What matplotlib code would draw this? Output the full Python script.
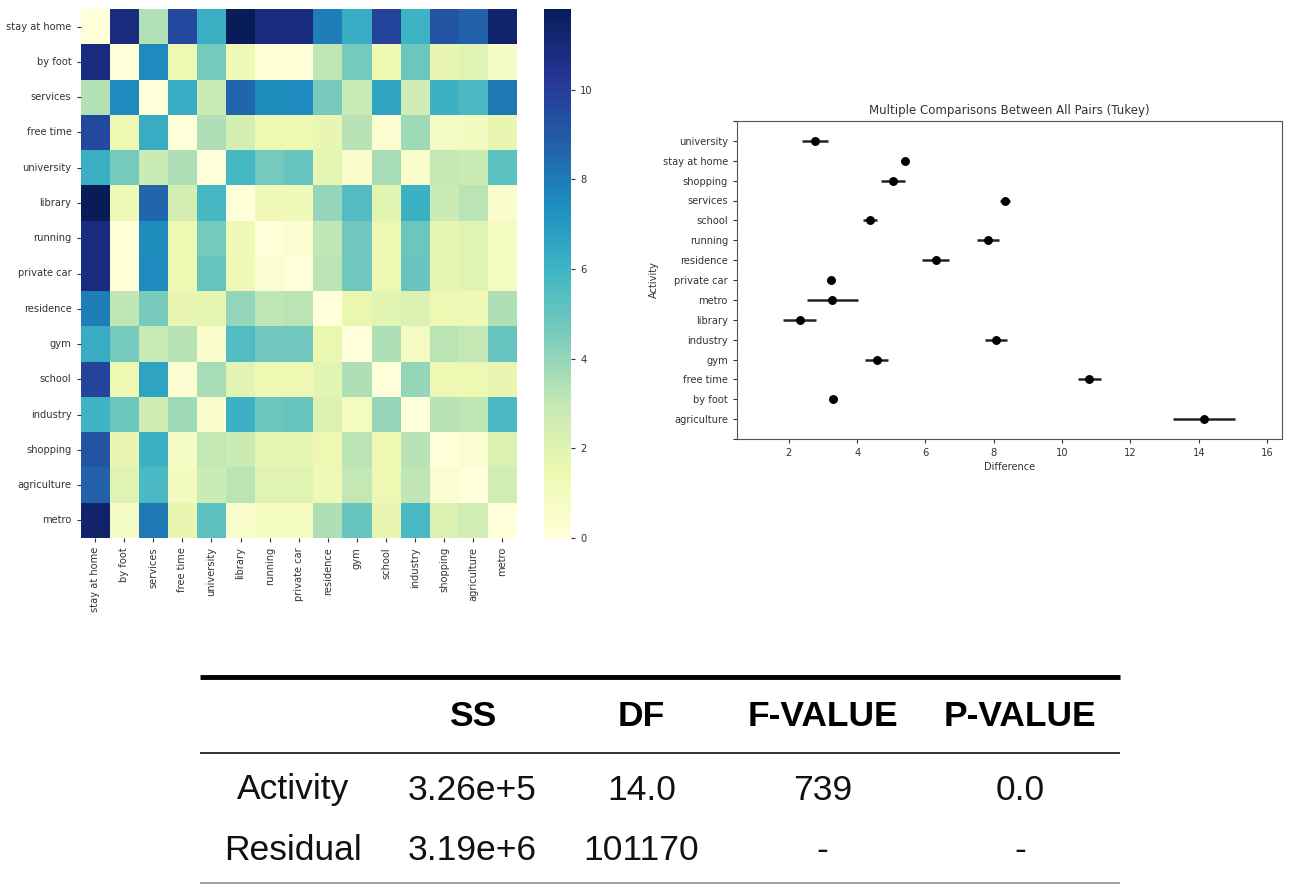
import numpy as np
import matplotlib
matplotlib.use("Agg")
import matplotlib.pyplot as plt
import seaborn as sns

# heatmap categories (rows == columns)
activities = ['stay at home', 'by foot', 'services', 'free time', 'university',
              'library', 'running', 'private car', 'residence', 'gym', 'school',
              'industry', 'shopping', 'agriculture', 'metro']

# pairwise values
pair_values = [
    [0, 10.9, 3.4, 9.6, 6.2, 11.8, 10.9, 10.9, 7.9, 6.3, 9.8, 6.0, 9.2, 8.8, 11.3],
    [10.9, 0, 7.6, 1.4, 4.7, 1.3, 0.1, 0.1, 3.1, 4.7, 1.4, 4.9, 1.7, 2.0, 0.8],
    [3.4, 7.6, 0, 6.3, 2.8, 8.6, 7.5, 7.6, 4.6, 2.9, 6.6, 2.7, 6.1, 5.7, 8.1],
    [9.6, 1.4, 6.3, 0, 3.5, 2.4, 1.5, 1.5, 1.7, 3.3, 0.3, 3.8, 0.8, 1.0, 1.7],
    [6.2, 4.7, 2.8, 3.5, 0, 5.8, 4.7, 5.0, 1.8, 0.5, 3.6, 0.5, 3.0, 2.8, 5.3],
    [11.8, 1.3, 8.6, 2.4, 5.8, 0, 1.2, 1.2, 4.0, 5.5, 1.9, 6.1, 2.8, 3.2, 0.5],
    [10.9, 0.1, 7.5, 1.5, 4.7, 1.2, 0, 0.4, 3.1, 4.8, 1.4, 4.9, 1.8, 2.0, 0.9],
    [10.9, 0.1, 7.6, 1.5, 5.0, 1.2, 0.4, 0, 3.2, 4.8, 1.4, 5.0, 1.8, 2.0, 0.9],
    [7.9, 3.1, 4.6, 1.7, 1.8, 4.0, 3.1, 3.2, 0, 1.6, 1.9, 2.1, 1.4, 1.3, 3.5],
    [6.3, 4.7, 2.9, 3.3, 0.5, 5.5, 4.8, 4.8, 1.6, 0, 3.5, 0.9, 3.2, 3.0, 5.0],
    [9.8, 1.4, 6.6, 0.3, 3.6, 1.9, 1.4, 1.4, 1.9, 3.5, 0, 4.0, 1.4, 1.4, 1.7],
    [6.0, 4.9, 2.7, 3.8, 0.5, 6.1, 4.9, 5.0, 2.1, 0.9, 4.0, 0, 3.3, 3.1, 5.7],
    [9.2, 1.7, 6.1, 0.8, 3.0, 2.8, 1.8, 1.8, 1.4, 3.2, 1.4, 3.3, 0, 0.4, 2.2],
    [8.8, 2.0, 5.7, 1.0, 2.8, 3.2, 2.0, 2.0, 1.3, 3.0, 1.4, 3.1, 0.4, 0, 2.6],
    [11.3, 0.8, 8.1, 1.7, 5.3, 0.5, 0.9, 0.9, 3.5, 5.0, 1.7, 5.7, 2.2, 2.6, 0],
]

# Tukey simultaneous intervals (bottom to top)
tukey_groups = ['agriculture', 'by foot', 'free time', 'gym', 'industry', 'library',
                'metro', 'private car', 'residence', 'running', 'school', 'services',
                'shopping', 'stay at home', 'university']
tukey_means = [14.15, 3.28, 10.8, 4.57, 8.07, 2.32, 3.27, 3.23, 6.3, 7.83, 4.37,
               8.32, 5.04, 5.39, 2.76]
tukey_halfwidths = [0.9, 0.12, 0.33, 0.34, 0.32, 0.48, 0.74, 0.12, 0.4, 0.32, 0.2,
                    0.15, 0.35, 0.1, 0.38]

# ANOVA table
table_header = ['', 'SS', 'DF', 'F-VALUE', 'P-VALUE']
table_rows = [
    ['Activity', '3.26e+5', '14.0', '739', '0.0'],
    ['Residual', '3.19e+6', '101170', '-', '-'],
]

W, H = 1290, 884
fig = plt.figure(figsize=(W / 100, H / 100), dpi=100)
fig.patch.set_facecolor('white')

small = 7.1
txt_col = '#333333'

# --- heatmap ---
ax_hm = fig.add_axes([80.5 / W, 1 - 538 / H, 436.5 / W, 529 / H])
ax_cb = fig.add_axes([544 / W, 1 - 538 / H, 27 / W, 529 / H])
sns.heatmap(np.array(pair_values), cmap='YlGnBu', vmin=0, vmax=11.8,
            xticklabels=activities, yticklabels=activities,
            ax=ax_hm, cbar_ax=ax_cb)
ax_hm.tick_params(labelsize=small, colors=txt_col, length=3)
ax_hm.set_xticklabels(activities, rotation=90)
ax_hm.set_yticklabels(activities, rotation=0)
ax_cb.tick_params(labelsize=small, colors=txt_col, length=3)
ax_cb.set_yticks([0, 2, 4, 6, 8, 10])

# --- Tukey plot ---
ax_tk = fig.add_axes([737 / W, 1 - 439 / H, 545 / W, 318 / H])
ypos = np.arange(len(tukey_groups))
ax_tk.errorbar(tukey_means, ypos, xerr=tukey_halfwidths, marker='o', linestyle='None',
               color='k', ecolor='#222222', elinewidth=1.8, markersize=5.4)
ax_tk.set_ylim(-1, len(tukey_groups))
ax_tk.set_yticks(np.arange(-1, len(tukey_groups) + 1))
ax_tk.set_yticklabels([''] + tukey_groups + [''])
ax_tk.set_xlim(0.48, 16.44)
ax_tk.set_xticks([2, 4, 6, 8, 10, 12, 14, 16])
ax_tk.tick_params(labelsize=small, colors=txt_col, length=3)
for sp in ax_tk.spines.values():
    sp.set_color('#555555')
ax_tk.set_title('Multiple Comparisons Between All Pairs (Tukey)', fontsize=8.5,
                color=txt_col, pad=5)
ax_tk.set_xlabel('Difference', fontsize=small, color=txt_col, labelpad=3)
ax_tk.set_ylabel('Activity', fontsize=small, color=txt_col, labelpad=3)

# --- ANOVA table ---
ax_tb = fig.add_axes([200 / W, 0, 920 / W, 210 / H])
ax_tb.set_xlim(0, 920)
ax_tb.set_ylim(210, 0)
ax_tb.axis('off')
col_x = [93, 272.5, 441.5, 622.5, 820]
ax_tb.hlines(2.7, 0, 920, color='black', linewidth=3.5, clip_on=False)
ax_tb.hlines(78.7, 0, 920, color='#222222', linewidth=1.3, clip_on=False)
ax_tb.hlines(208.5, 0, 920, color='#999999', linewidth=1.3, clip_on=False)
for x, lab in zip(col_x, table_header):
    ax_tb.text(x, 42.7, lab, ha='center', va='center', fontsize=25.5,
               fontweight='bold', family='Liberation Sans', color='black')
for y, row in zip([116, 176], table_rows):
    for x, cell in zip(col_x, row):
        ax_tb.text(x, y, cell, ha='center', va='center', fontsize=25.5,
                   family='Liberation Sans', color='#111111')

fig.savefig('out.png', dpi=100)
